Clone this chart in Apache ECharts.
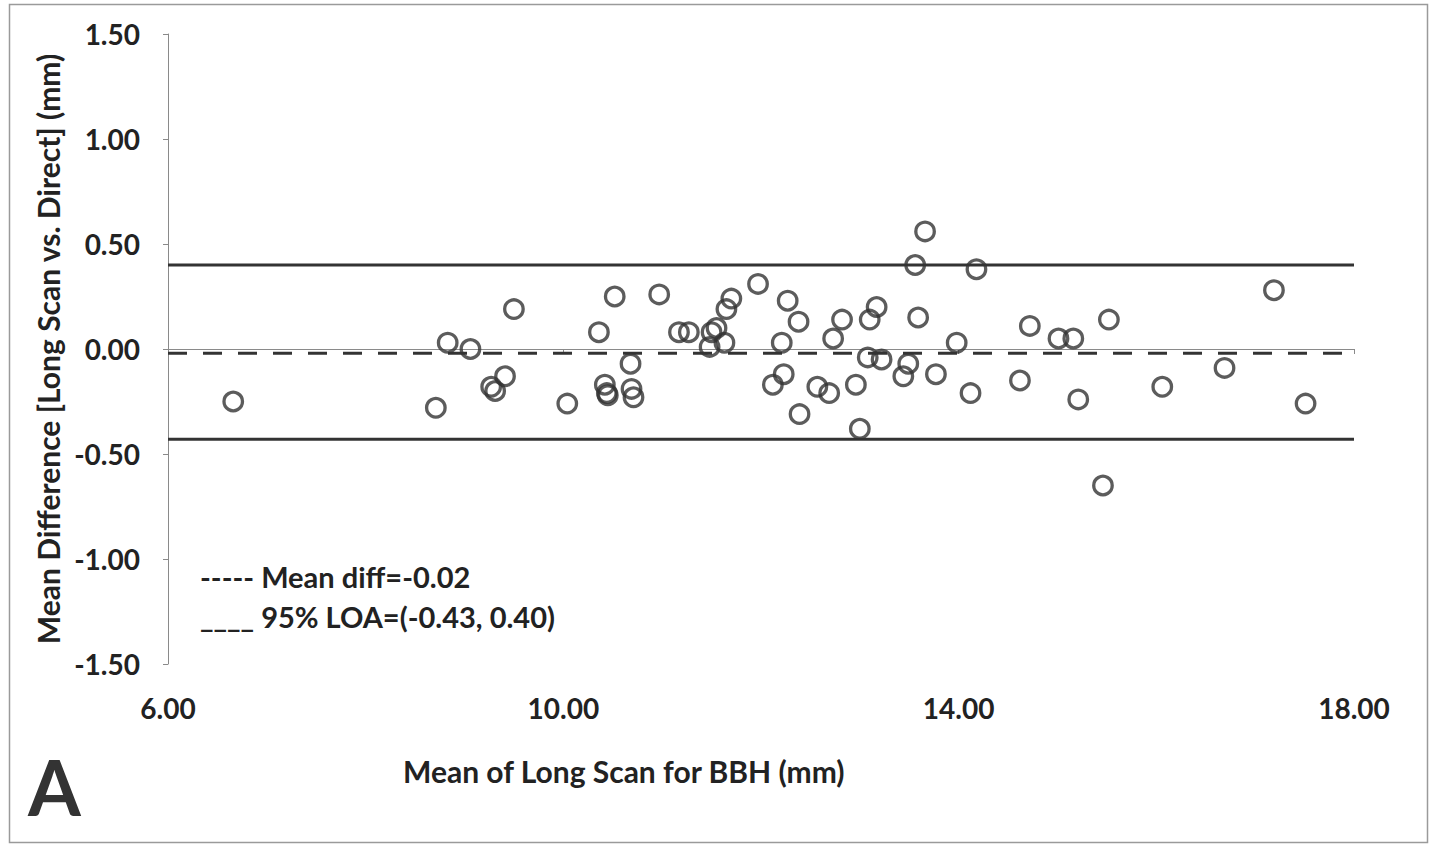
<!DOCTYPE html>
<html>
<head>
<meta charset="utf-8">
<title>Bland-Altman BBH</title>
<script src="https://cdn.jsdelivr.net/npm/echarts@6/dist/echarts.min.js"></script>
<style>
  html, body { margin: 0; padding: 0; background: #fff; }
  #chart { width: 1432px; height: 844px; }
</style>
</head>
<body>
<div id="chart"></div>
<script>
const meanValues = [
  6.66, 8.71, 8.83, 9.06, 9.50, 9.41, 9.27, 9.31, 10.04, 10.36,
  10.52, 10.97, 10.68, 10.42, 10.44, 10.45, 10.69, 10.71, 11.17, 11.27,
  11.50, 11.55, 11.48, 11.63, 11.70, 11.65, 11.97, 12.27, 12.38, 12.21,
  12.23, 12.12, 12.39, 12.57, 12.69, 12.82, 12.73, 12.96, 13.00, 13.17,
  13.10, 13.08, 13.22, 13.49, 13.44, 13.56, 13.59, 13.66, 13.77, 13.98,
  14.12, 14.18, 14.72, 14.62, 15.01, 15.16, 15.21, 15.52, 15.46, 16.06,
  16.69, 17.19, 17.51
];
const diffValues = [
  -0.25, -0.28, 0.03, 0.00, 0.19, -0.13, -0.18, -0.20, -0.26, 0.08,
  0.25, 0.26, -0.07, -0.17, -0.21, -0.22, -0.19, -0.23, 0.08, 0.08,
  0.08, 0.10, 0.01, 0.03, 0.24, 0.19, 0.31, 0.23, 0.13, 0.03,
  -0.12, -0.17, -0.31, -0.18, -0.21, 0.14, 0.05, -0.17, -0.38, 0.20,
  0.14, -0.04, -0.05, -0.07, -0.13, 0.40, 0.15, 0.56, -0.12, 0.03,
  -0.21, 0.38, 0.11, -0.15, 0.05, 0.05, -0.24, 0.14, -0.65, -0.18,
  -0.09, 0.28, -0.26
];

const meanDiff = -0.02;
const loaLower = -0.43;
const loaUpper = 0.40;

const xRange = [6, 18];
const xTicks = [6, 10, 14, 18];
const yRange = [-1.5, 1.5];

const legendLines = ['----- Mean diff=-0.02', '____ 95% LOA=(-0.43, 0.40)'];

const FONT = 'Lato, "Open Sans", sans-serif';
const INK = '#222';

const chart = echarts.init(document.getElementById('chart'), null, { renderer: 'svg' });

const points = meanValues.map((m, i) => [m, diffValues[i]]);
const hLine = v => [[xRange[0], v], [xRange[1], v]];

const option = {
  backgroundColor: '#fff',
  animation: false,
  grid: { left: 168, right: 78, top: 34, bottom: 180 },
  xAxis: {
    type: 'value',
    min: xRange[0],
    max: xRange[1],
    axisLine: { show: true, lineStyle: { color: '#8a8a8a', width: 1 } },
    axisTick: { show: true, length: 5, customValues: xTicks, lineStyle: { color: '#8a8a8a' } },
    axisLabel: {
      customValues: xTicks,
      margin: 30,
      color: INK,
      fontFamily: FONT,
      fontWeight: 'bold',
      fontSize: 28,
      formatter: v => v.toFixed(2)
    },
    splitLine: { show: false }
  },
  yAxis: {
    type: 'value',
    min: yRange[0],
    max: yRange[1],
    interval: 0.5,
    name: 'Mean Difference [Long Scan vs. Direct] (mm)',
    nameLocation: 'middle',
    nameGap: 104,
    nameTextStyle: { color: INK, fontFamily: FONT, fontWeight: 'bold', fontSize: 30 },
    axisLine: { show: true, lineStyle: { color: '#8a8a8a', width: 1 } },
    axisTick: { show: true, length: 5, lineStyle: { color: '#8a8a8a' } },
    axisLabel: {
      margin: 28,
      color: INK,
      fontFamily: FONT,
      fontWeight: 'bold',
      fontSize: 28,
      formatter: v => v.toFixed(2)
    },
    splitLine: { show: false }
  },
  series: [
    {
      name: '95% LOA upper',
      type: 'line',
      data: hLine(loaUpper),
      symbol: 'none',
      lineStyle: { color: '#333', width: 3 },
      z: 1
    },
    {
      name: '95% LOA lower',
      type: 'line',
      data: hLine(loaLower),
      symbol: 'none',
      lineStyle: { color: '#333', width: 3 },
      z: 1
    },
    {
      name: 'Mean diff',
      type: 'line',
      data: hLine(meanDiff),
      symbol: 'none',
      lineStyle: { color: '#333', width: 3, type: [19, 16] },
      z: 1
    },
    {
      name: 'Differences',
      type: 'scatter',
      data: points,
      symbol: 'circle',
      symbolSize: 18.5,
      itemStyle: { color: 'rgba(0,0,0,0)', borderColor: '#333', borderWidth: 3.3 },
      z: 2
    }
  ],
  graphic: [
    {
      type: 'rect',
      left: 7, top: 2,
      shape: { width: 1418, height: 838 },
      style: { fill: 'none', stroke: '#9a9a9a', lineWidth: 1.5 },
      silent: true
    },
    {
      type: 'text',
      left: 200, top: 562,
      style: { text: legendLines[0], fill: INK, font: 'bold 29px ' + FONT }
    },
    {
      type: 'text',
      left: 200, top: 602,
      style: { text: legendLines[1], fill: INK, font: 'bold 29px ' + FONT }
    },
    {
      type: 'text',
      left: 403, top: 756,
      style: { text: 'Mean of Long Scan for BBH (mm)', fill: INK, font: 'bold 30px ' + FONT }
    },
    {
      type: 'text',
      left: 28, top: 748,
      style: { text: 'A', fill: '#333', font: 'bold 76px ' + FONT }
    }
  ]
};

chart.setOption(option);
</script>
</body>
</html>
